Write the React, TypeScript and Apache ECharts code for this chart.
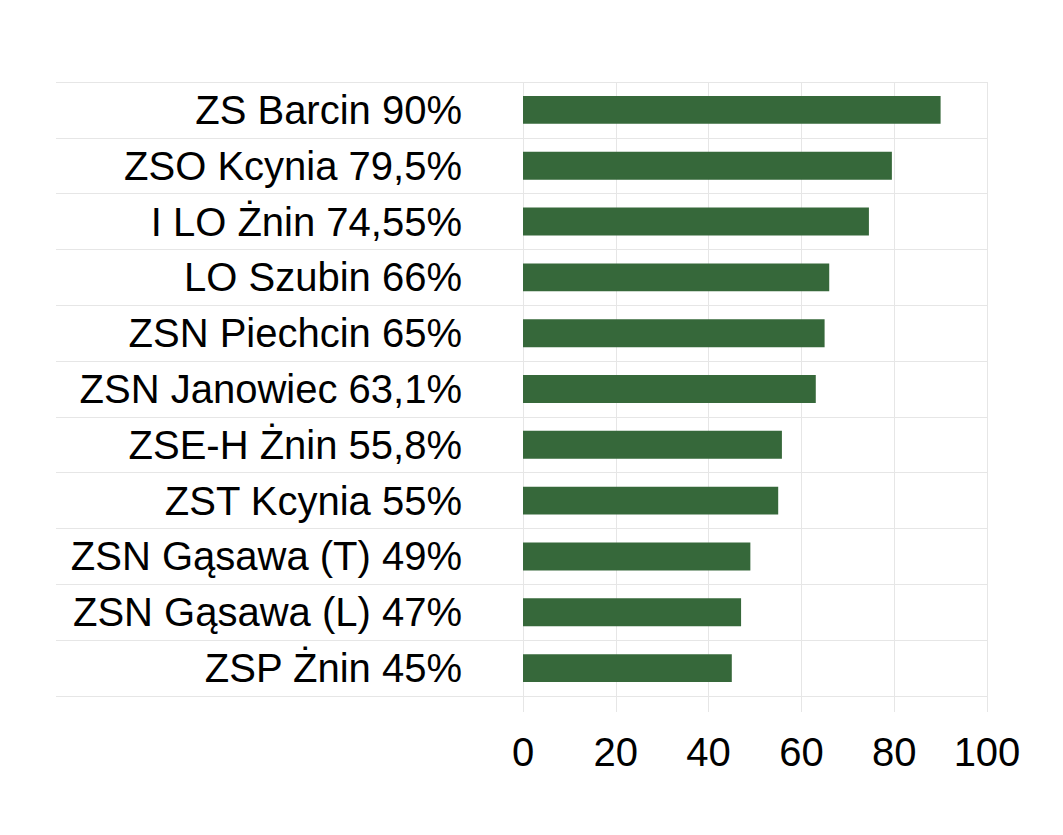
import React, { useEffect, useRef } from "react";
import * as echarts from "echarts";

const categories = [
  "ZS Barcin 90%",
  "ZSO Kcynia 79,5%",
  "I LO Żnin 74,55%",
  "LO Szubin 66%",
  "ZSN Piechcin 65%",
  "ZSN Janowiec 63,1%",
  "ZSE-H Żnin 55,8%",
  "ZST Kcynia 55%",
  "ZSN Gąsawa (T) 49%",
  "ZSN Gąsawa (L) 47%",
  "ZSP Żnin 45%",
];
const values = [90, 79.5, 74.55, 66, 65, 63.1, 55.8, 55, 49, 47, 45];
const xMin = 0;
const xMax = 100;
const xInterval = 20;

export default function App() {
  const ref = useRef<HTMLDivElement>(null);
  useEffect(() => {
    if (!ref.current) return;
    const chart = echarts.init(ref.current, null, { renderer: "svg" });
    const gridColor = "#e6e6e6";
    chart.setOption({
      animation: false,
      backgroundColor: "#ffffff",
      textStyle: { fontFamily: "Liberation Sans, Arial, sans-serif" },
      grid: { left: 523, right: 76, top: 82, bottom: 139, containLabel: false },
      xAxis: {
        type: "value",
        min: xMin,
        max: xMax,
        interval: xInterval,
        axisLine: { show: false },
        axisTick: { show: true, length: 16, lineStyle: { color: gridColor, width: 1 } },
        splitLine: { show: true, lineStyle: { color: gridColor, width: 1 } },
        axisLabel: {
          color: "#000",
          fontSize: 40,
          fontFamily: "Liberation Sans, Arial, sans-serif",
          margin: 36,
        },
      },
      yAxis: {
        type: "category",
        data: categories,
        inverse: true,
        axisLine: { show: false },
        axisTick: { show: true, length: 467, lineStyle: { color: gridColor, width: 1 } },
        splitLine: { show: true, lineStyle: { color: gridColor, width: 1 } },
        axisLabel: {
          color: "#000",
          fontSize: 40,
          fontFamily: "Liberation Sans, Arial, sans-serif",
          margin: 61,
        },
      },
      series: [
        {
          type: "bar",
          data: values,
          barWidth: "50%",
          itemStyle: { color: "#36683a" },
        },
      ],
    });
    return () => chart.dispose();
  }, []);
  return (
    <div
      ref={ref}
      style={{ position: "fixed", left: 0, top: 0, width: 1063, height: 835 }}
    />
  );
}
